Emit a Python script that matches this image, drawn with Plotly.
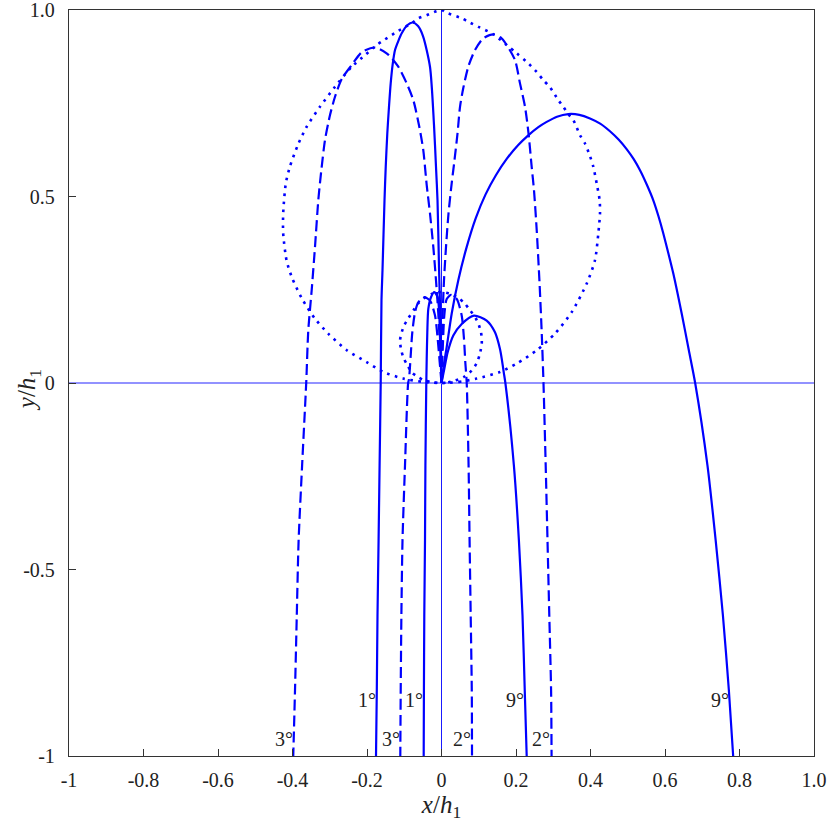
import plotly.graph_objects as go

# ---- data (x/h1, y/h1) ----
big1_x = [0, -0.0021, -0.0067, -0.0107, -0.0148, -0.0201, -0.0309, -0.0497, -0.063, -0.0779, -0.092, -0.1068,
          -0.1155, -0.1248, -0.131, -0.1364, -0.141, -0.1455, -0.1497, -0.153, -0.1584, -0.1611, -0.1632,
          -0.1662, -0.1689, -0.1718, -0.1737, -0.1758]
big1_y = [0, 0.1325, 0.3112, 0.490, 0.5796, 0.6914, 0.8479, 0.9302, 0.957, 0.9665, 0.959, 0.9375,
          0.918, 0.8927, 0.855, 0.8033, 0.74, 0.669, 0.58, 0.490, 0.3024, 0.2219, 0,
          -0.2208, -0.4226, -0.6233, -0.8245, -1.0]

big3_x = [0, -0.004, -0.0086, -0.0148, -0.022, -0.0309, -0.0397, -0.0489, -0.0596, -0.0757, -0.0934, -0.116,
          -0.1463, -0.1785, -0.2134, -0.2411, -0.2679, -0.2859, -0.2993, -0.3128, -0.3232, -0.3307, -0.3396,
          -0.3485, -0.3576, -0.3632, -0.3742, -0.3836, -0.3885, -0.3933, -0.398]
big3_y = [0, 0.0966, 0.1862, 0.2756, 0.3649, 0.4545, 0.5305, 0.6244, 0.6869, 0.7585, 0.8033, 0.8479,
          0.8833, 0.8994, 0.8873, 0.8524, 0.8149, 0.7674, 0.7183, 0.6512, 0.5653, 0.4906, 0.3649,
          0.2487, 0.1414, 0, -0.2208, -0.4226, -0.6233, -0.8245, -1.0]

big2_x = [0, 0.0012, 0.0032, 0.0067, 0.0121, 0.0188, 0.0274, 0.0349, 0.043, 0.0497, 0.0585, 0.0719, 0.0899,
          0.1122, 0.1391, 0.158, 0.175, 0.1973, 0.2107, 0.2242, 0.2336, 0.2421, 0.2483, 0.2556, 0.2631, 0.269,
          0.2738, 0.2797, 0.2846, 0.2894, 0.2942, 0.2955]
big2_y = [0, 0.09, 0.1862, 0.2756, 0.3649, 0.4545, 0.5358, 0.5975, 0.6692, 0.7405, 0.7907, 0.8479, 0.8926,
          0.9241, 0.9348, 0.927, 0.9061, 0.8659, 0.8033, 0.7405, 0.6692, 0.5796, 0.517, 0.4097, 0.2702, 0.136,
          0, -0.2208, -0.4226, -0.6233, -0.8245, -1.0]

big9_x = [0, 0.0065, 0.014, 0.0274, 0.0451, 0.0677, 0.092, 0.118, 0.146, 0.176, 0.206, 0.2329, 0.26, 0.2823,
          0.31, 0.3403, 0.37, 0.3987, 0.426, 0.4523, 0.476, 0.497, 0.516, 0.5329, 0.551, 0.5686, 0.5825, 0.5955,
          0.609, 0.6223, 0.6448, 0.664, 0.681, 0.714, 0.7361, 0.7555, 0.7715, 0.783]
big9_y = [0, 0.05, 0.0966, 0.1862, 0.2756, 0.3649, 0.442, 0.505, 0.557, 0.602, 0.638, 0.664, 0.686, 0.7,
          0.714, 0.721, 0.719, 0.7094, 0.6955, 0.675, 0.652, 0.627, 0.6, 0.5703, 0.532, 0.4898, 0.447, 0.4009,
          0.348, 0.2935, 0.1862, 0.0877, 0, -0.2208, -0.4226, -0.6233, -0.8245, -1.0]

small1_x = [0, -0.0032, -0.0059, -0.0102, -0.0193, -0.0282, -0.0354, -0.0381, -0.0397, -0.0408,
            -0.0432, -0.0443, -0.0462, -0.0472, -0.0478]
small1_y = [0, 0.0912, 0.1808, 0.23, 0.2434, 0.23, 0.1985, 0.136, 0.0644, 0,
            -0.2208, -0.4226, -0.6233, -0.8245, -1.0]

small3_x = [0, -0.0048, -0.0102, -0.0174, -0.0309, -0.0462, -0.0623, -0.0711, -0.0784, -0.0827, -0.0872,
            -0.0895, -0.098, -0.1047, -0.1077, -0.1095, -0.1106]
small3_y = [0, 0.0555, 0.118, 0.1808, 0.221, 0.23, 0.2165, 0.1897, 0.136, 0.0735, 0.0107,
            0, -0.2208, -0.4226, -0.6233, -0.8245, -1.0]

small2_x = [0, 0.004, 0.0075, 0.014, 0.0255, 0.0408, 0.0542, 0.0604, 0.0639, 0.0677,
            0.0727, 0.0754, 0.0784, 0.0813, 0.0819]
small2_y = [0, 0.1092, 0.1808, 0.2254, 0.236, 0.2254, 0.1808, 0.118, 0.0555, 0,
            -0.2208, -0.4226, -0.6233, -0.8245, -1.0]

small9_x = [0, 0.0075, 0.0166, 0.0317, 0.0542, 0.0872, 0.1213, 0.1436, 0.157, 0.1625, 0.1672, 0.1715,
            0.1943, 0.2078, 0.2175, 0.2235, 0.2287]
small9_y = [0, 0.0376, 0.0824, 0.1272, 0.1583, 0.1808, 0.1674, 0.136, 0.0912, 0.06, 0.028, 0,
            -0.2208, -0.4226, -0.6233, -0.8245, -1.0]

# apex loci (dotted)
loop_big_x = [0, 0.047, 0.0945, 0.157, 0.2019, 0.2556, 0.3047, 0.3495, 0.39, 0.412, 0.421, 0.4255, 0.4245,
              0.4166, 0.4075, 0.398, 0.3852, 0.3718, 0.3538, 0.3403, 0.327, 0.3136, 0.2913, 0.2733, 0.2556,
              0.2287, 0.2019, 0.175, 0.139, 0.099, 0.0765, 0.054, 0.014, 0,
              -0.013, -0.04, -0.062, -0.078, -0.116, -0.152, -0.174, -0.205, -0.241, -0.286, -0.326, -0.362,
              -0.384, -0.407, -0.418, -0.425, -0.425, -0.416, -0.402, -0.375, -0.34, -0.304, -0.2545, -0.201,
              -0.156, -0.103, -0.049, 0]
loop_big_y = [0, 0.003, 0.0118, 0.0295, 0.052, 0.0877, 0.1325, 0.19, 0.267, 0.329, 0.401, 0.4545, 0.49,
              0.535, 0.58, 0.61, 0.642, 0.6646, 0.705, 0.721, 0.7405, 0.7585, 0.793, 0.812, 0.834,
              0.861, 0.884, 0.906, 0.935, 0.955, 0.966, 0.978, 0.9925, 1.0,
              0.997, 0.986, 0.978, 0.966, 0.944, 0.921, 0.906, 0.879, 0.848, 0.794, 0.741, 0.687,
              0.642, 0.58, 0.535, 0.455, 0.401, 0.329, 0.284, 0.227, 0.173, 0.1325, 0.088, 0.056,
              0.0295, 0.012, 0.003, 0]

loop_small_x = [0, 0.018, 0.036, 0.0585, 0.0811, 0.0945, 0.103, 0.108, 0.108, 0.106, 0.099, 0.091, 0.0765,
                0.0608, 0.042, 0.022, 0,
                -0.025, -0.0489, -0.064, -0.075, -0.09, -0.1, -0.1068, -0.1114, -0.1087, -0.1026, -0.0934,
                -0.08, -0.0623, -0.0443, -0.022, 0]
loop_small_y = [0, 0.0015, 0.0065, 0.0153, 0.0333, 0.053, 0.078, 0.1046, 0.12, 0.136, 0.159, 0.175, 0.195,
                0.215, 0.23, 0.239, 0.244,
                0.239, 0.2265, 0.212, 0.195, 0.172, 0.155, 0.136, 0.1138, 0.0912, 0.069, 0.051,
                0.0287, 0.0153, 0.0064, 0.0019, 0]

# curve labels
label_text = ["1°", "1°", "9°", "9°", "3°", "3°", "2°", "2°"]
label_x = [-0.199, -0.0725, 0.1968, 0.7476, -0.4236, -0.136, 0.0537, 0.266]
label_y = [-0.851, -0.851, -0.851, -0.851, -0.954, -0.954, -0.954, -0.954]

x_ticks = [-1, -0.8, -0.6, -0.4, -0.2, 0, 0.2, 0.4, 0.6, 0.8, 1.0]
x_ticktext = ["-1", "-0.8", "-0.6", "-0.4", "-0.2", "0", "0.2", "0.4", "0.6", "0.8", "1.0"]
y_ticks = [-1, -0.5, 0, 0.5, 1.0]
y_ticktext = ["-1", "-0.5", "0", "0.5", "1.0"]

BLUE = "#0000ff"
FONT = "'Liberation Serif', 'DejaVu Serif', serif"

fig = go.Figure()

# reference lines at x = 0 and y = 0
fig.add_vline(x=0, line=dict(color="#1a1aff", width=1), layer="below")
fig.add_hline(y=0, line=dict(color="#6e6eff", width=1.6), layer="below")

curves = [
    (big1_x, big1_y, "solid"), (big3_x, big3_y, "dash"), (big2_x, big2_y, "dash"), (big9_x, big9_y, "solid"),
    (small1_x, small1_y, "solid"), (small3_x, small3_y, "dash"), (small2_x, small2_y, "dash"),
    (small9_x, small9_y, "solid"),
]
for cx, cy, style in curves:
    dash = "solid" if style == "solid" else "11px,5px"
    fig.add_trace(go.Scatter(x=cx, y=cy, mode="lines",
                             line=dict(color=BLUE, width=2.2, dash=dash, shape="spline", smoothing=0.7),
                             showlegend=False, hoverinfo="skip"))

for lx, ly in [(loop_big_x, loop_big_y), (loop_small_x, loop_small_y)]:
    fig.add_trace(go.Scatter(x=lx, y=ly, mode="lines",
                             line=dict(color=BLUE, width=2.6, dash="2.6px,5.4px", shape="spline", smoothing=0.7),
                             showlegend=False, hoverinfo="skip"))

for t, lx, ly in zip(label_text, label_x, label_y):
    fig.add_annotation(x=lx, y=ly, text=t, showarrow=False, xref="x", yref="y",
                       font=dict(family=FONT, size=20, color="#222"))

# y-axis title placed like the reference
fig.add_annotation(x=-0.054, y=0.49, xref="paper", yref="paper", xanchor="center", yanchor="middle",
                   text="<i>y</i>/<i>h</i><sub>1</sub>", textangle=-90, showarrow=False,
                   font=dict(family=FONT, size=25, color="#222"))

fig.update_layout(
    width=830, height=827,
    margin=dict(l=69, r=16, t=10, b=71, autoexpand=False),
    paper_bgcolor="white", plot_bgcolor="white",
    font=dict(family=FONT, size=20, color="#222"),
)
fig.update_xaxes(
    range=[-1, 1], tickvals=x_ticks, ticktext=x_ticktext, automargin=False,
    ticks="inside", ticklen=7, tickwidth=1, tickcolor="#333",
    showline=True, linecolor="#333", linewidth=1.3, mirror=True,
    showgrid=False, zeroline=False, ticklabeloverflow="allow",
    ticklabelstandoff=6,
    title=dict(text="<i>x</i>/<i>h</i><sub>1</sub>", font=dict(family=FONT, size=25), standoff=0),
)
fig.update_yaxes(
    range=[-1, 1], tickvals=y_ticks, ticktext=y_ticktext, automargin=False,
    ticks="inside", ticklen=7, tickwidth=1, tickcolor="#333",
    showline=True, linecolor="#333", linewidth=1.3, mirror=True,
    showgrid=False, zeroline=False, ticklabeloverflow="allow",
    ticklabelstandoff=9,
)

fig.write_html("out.html", config={"displayModeBar": False},
               post_script="document.body.style.margin='0';document.body.style.overflow='hidden';")
